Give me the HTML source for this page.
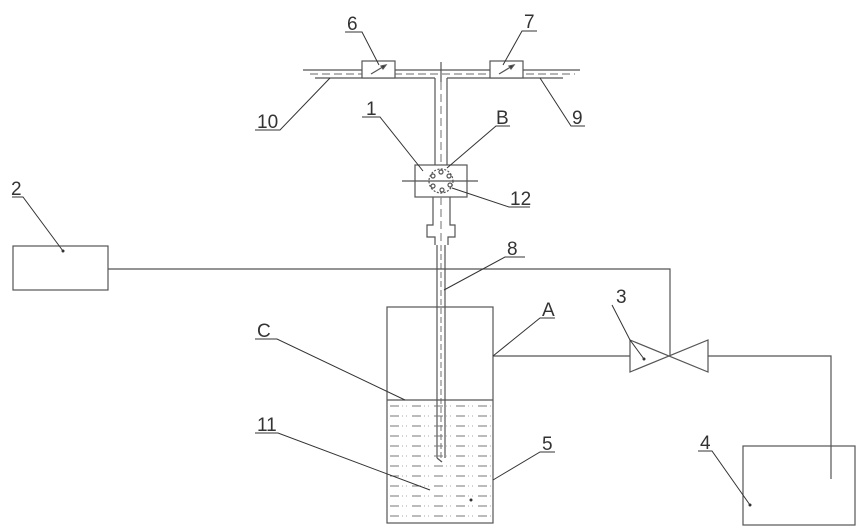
<!DOCTYPE html>
<html><head><meta charset="utf-8"><style>
html,body{margin:0;padding:0;background:#fff;}
svg{display:block;}
text{font-family:"Liberation Sans",sans-serif;font-size:19px;fill:#333;}
</style></head><body>
<svg width="861" height="532" viewBox="0 0 861 532" xmlns="http://www.w3.org/2000/svg">
<defs>
<pattern id="liq" x="388" y="401" width="22" height="10" patternUnits="userSpaceOnUse">
<line x1="2" y1="5" x2="11" y2="5" stroke="#777" stroke-width="1"/>
<line x1="14" y1="5" x2="15" y2="5" stroke="#aaa" stroke-width="1"/>
<line x1="18" y1="5" x2="19" y2="5" stroke="#aaa" stroke-width="1"/>
</pattern>
</defs>
<g stroke="#555" stroke-width="1.2" fill="none">
<!-- top pipe -->
<line x1="303" y1="70" x2="580" y2="70"/>
<line x1="315" y1="78" x2="435" y2="78"/>
<line x1="447" y1="78" x2="563" y2="78"/>
<line x1="310" y1="74" x2="575" y2="74" stroke-dasharray="8,4" stroke="#888"/>
<!-- valves 6 7 -->
<rect x="362" y="61" width="33" height="17" fill="#fff"/>
<rect x="490" y="61" width="33" height="17" fill="#fff"/>
<line x1="371" y1="74" x2="386" y2="65"/><polygon points="386,65 381,66 383,69" fill="#333"/>
<line x1="499" y1="74" x2="514" y2="65"/><polygon points="514,65 509,66 511,69" fill="#333"/>
<line x1="441" y1="62" x2="441" y2="82"/>
<!-- vertical stem -->
<line x1="435" y1="78" x2="435" y2="165"/>
<line x1="447" y1="78" x2="447" y2="165"/>
<line x1="441" y1="82" x2="441" y2="165" stroke-dasharray="8,4" stroke="#888"/>
<!-- block 1 -->
<rect x="415" y="165" width="52" height="32"/>
<line x1="402" y1="181" x2="478" y2="181"/>
<circle cx="441" cy="181" r="12" stroke-dasharray="2,1.5"/>
<circle cx="441" cy="172" r="2"/><circle cx="449" cy="176" r="2"/><circle cx="450" cy="185" r="2"/>
<circle cx="442" cy="190" r="2"/><circle cx="433" cy="186" r="2"/><circle cx="433" cy="176" r="2"/>
<!-- neck -->
<polyline points="433,197 433,225 427,225 427,237 435,237 435,245"/>
<polyline points="450,197 450,225 455,225 455,237 448,237 448,245"/>
<line x1="441" y1="197" x2="441" y2="245" stroke-dasharray="8,4" stroke="#888"/>
<line x1="437" y1="245" x2="437" y2="458"/>
<line x1="445" y1="245" x2="445" y2="458"/>
<line x1="441" y1="245" x2="441" y2="462" stroke-dasharray="6,3" stroke="#888"/>
<line x1="437" y1="458" x2="442" y2="462"/>
<!-- tank -->
<rect x="388" y="401" width="105" height="122" fill="url(#liq)" stroke="none"/>
<rect x="387" y="307" width="106" height="216"/>
<line x1="387" y1="400" x2="493" y2="400"/>
<!-- box 2 and wire -->
<rect x="13" y="246" width="95" height="44"/>
<polyline points="108,269 670,269 670,356"/>
<!-- pipe A to valve 3 -->
<line x1="493" y1="356" x2="630" y2="356"/>
<polygon points="630,340 630,372 708,340 708,372"/>
<polyline points="708,356 831,356 831,479"/>
<rect x="743" y="446" width="112" height="79"/>
<!-- leaders -->
<g stroke="#333" stroke-width="1">
<polyline points="345,32 362,32 379,65"/>
<polyline points="537,31 522,31 503,65"/>
<polyline points="585,126 571,126 540,78"/>
<polyline points="255,130 280,130 330,78"/>
<polyline points="362,117 380,117 423,171"/>
<polyline points="510,126 496,126 447,168"/>
<polyline points="530,207 509,207 452,188"/>
<polyline points="525,257 505,257 444,290"/>
<polyline points="12,197 23,197 63,251"/>
<polyline points="555,318 540,318 493,356"/>
<polyline points="612,305 630,340 644,359"/>
<polyline points="698,451 712,451 750,505"/>
<polyline points="555,452 540,452 493,480"/>
<polyline points="255,339 277,339 405,400"/>
<polyline points="255,433 278,433 430,490"/>
</g>
</g>
<g fill="#333"><circle cx="63" cy="251" r="1.5"/><circle cx="644" cy="359" r="1.5"/><circle cx="750" cy="505" r="1.5"/><circle cx="471" cy="500" r="1.5"/></g>
<text x="347" y="30">6</text>
<text x="524" y="28">7</text>
<text x="572" y="124">9</text>
<text x="257" y="128">10</text>
<text x="366" y="115">1</text>
<text x="496" y="124">B</text>
<text x="510" y="205">12</text>
<text x="507" y="255">8</text>
<text x="11" y="195">2</text>
<text x="542" y="316">A</text>
<text x="616" y="303">3</text>
<text x="700" y="449">4</text>
<text x="542" y="450">5</text>
<text x="257" y="337">C</text>
<text x="257" y="431">11</text>
</svg>
</body></html>
